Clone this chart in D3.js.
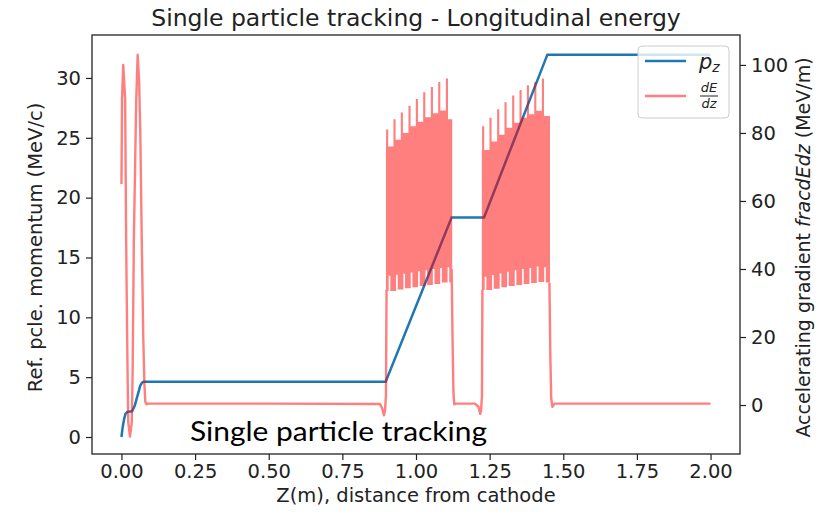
<!DOCTYPE html>
<html>
<head>
<meta charset="utf-8">
<script src="https://cdn.jsdelivr.net/npm/d3@7"></script>
<style>
  body { margin: 0; background: #fff; }
  svg { display: block; font-family: "DejaVu Sans", sans-serif; }
</style>
</head>
<body>
<div id="chart"></div>
<script>
const width = 833;
const height = 515;
const plot = { left: 92, right: 740, top: 35, bottom: 454 };

// tick values
const xTicks = [0, 0.25, 0.5, 0.75, 1.0, 1.25, 1.5, 1.75, 2.0];
const pzTicks = [0, 5, 10, 15, 20, 25, 30];
const gradTicks = [0, 20, 40, 60, 80, 100];

// reference momentum p_z (MeV/c) along z (m)
const pzZ = [0, 0.004, 0.009, 0.014, 0.02, 0.036, 0.045, 0.055, 0.064, 0.07, 0.075, 0.897, 1.121, 1.231, 1.446, 2.0];
const pzVal = [0, 0.8, 1.5, 1.95, 2.1, 2.15, 2.6, 3.5, 4.3, 4.55, 4.62, 4.62, 18.35, 18.35, 31.95, 31.95];

// dE/dz (MeV/m): gun + drift up to first linac section
const gunZ = [0, 0.002, 0.006, 0.0125, 0.016, 0.02, 0.023, 0.029, 0.035, 0.038, 0.042, 0.05, 0.055, 0.06, 0.064, 0.069, 0.074, 0.078, 0.081, 0.085, 0.09, 0.5, 0.878, 0.886, 0.891, 0.895, 0.898, 0.900];
const gunE = [65, 90, 100, 90, 48, 15, -5, -9.3, -5, 10, 48, 89, 103, 95, 80, 48, 20, 6, 1, 0.2, 0.4, 0.4, 0.3, -1.2, -3, -1.5, 3, 34];
// drift between the two sections
const gapZ = [1.121, 1.124, 1.127, 1.130, 1.134, 1.2, 1.212, 1.218, 1.221, 1.224, 1.2255];
const gapE = [40, 20, 4, 0.2, 0.4, 0.4, -0.5, -2.6, -1.5, 3, 34];
// drift after the second section
const tailZ = [1.453, 1.456, 1.459, 1.463, 1.47, 2.0];
const tailE = [36, 15, 2, -0.5, 0.4, 0.4];

// section 1 (dense RF oscillation band)
const s1Range = [0.900, 1.121];
const s1SpikeZ = [0.902, 0.927, 0.952, 0.978, 1.003, 1.028, 1.054, 1.079, 1.105];
const s1SpikeTop = [81, 84, 86, 88, 90, 92, 93.5, 95, 96];
const s1BandTop = [76, 78, 80, 82, 83.3, 84.6, 85.8, 86.6, 84];
const s1NotchZ = [0.910, 0.935, 0.960, 0.985, 1.010, 1.035, 1.060, 1.085, 1.110];
const s1NotchTop = [38, 38.3, 38.6, 39, 39.3, 39.6, 40, 40.3, 40.5];
const s1BandBot = [33.5, 34, 34.3, 34.6, 35, 35.3, 35.6, 36, 36];

// section 2
const s2Range = [1.2255, 1.453];
const s2SpikeZ = [1.228, 1.253, 1.279, 1.304, 1.330, 1.355, 1.380, 1.405, 1.431];
const s2SpikeTop = [82, 84.5, 87, 89, 91, 92.6, 94, 95, 96];
const s2BandTop = [75, 77.5, 79.5, 81.5, 83, 84.5, 85.5, 86.5, 85];
const s2NotchZ = [1.236, 1.261, 1.287, 1.312, 1.338, 1.363, 1.388, 1.413, 1.438];
const s2NotchTop = [37.7, 38.2, 38.7, 39.2, 39.6, 40, 40.3, 40.7, 40.5];
const s2BandBot = [33.8, 34.2, 34.6, 35, 35.3, 35.6, 35.9, 36.2, 36];

const svg = d3.select('#chart')
  .append('svg')
  .attr('width', width)
  .attr('height', height);

svg.append('rect').attr('width', width).attr('height', height).attr('fill', '#fff');

const x = d3.scaleLinear().domain([-0.1, 2.1]).range([plot.left, plot.right]);
const yL = d3.scaleLinear().domain([-1.42, 33.59]).range([plot.bottom, plot.top]);
const yR = d3.scaleLinear().domain([-14.4, 108.8]).range([plot.bottom, plot.top]);

svg.append('clipPath').attr('id', 'clip')
  .append('rect')
  .attr('x', plot.left).attr('y', plot.top)
  .attr('width', plot.right - plot.left)
  .attr('height', plot.bottom - plot.top);

// p_z line
const pzData = pzZ.map((z, i) => [z, pzVal[i]]);
svg.append('path')
  .datum(pzData)
  .attr('clip-path', 'url(#clip)')
  .attr('fill', 'none')
  .attr('stroke', '#1f77b4')
  .attr('stroke-width', 2.5)
  .attr('d', d3.line().x(d => x(d[0])).y(d => yL(d[1])));

// dE/dz, drawn in one group at 50% so overlaps don't double up
const red = svg.append('g')
  .attr('clip-path', 'url(#clip)')
  .attr('opacity', 0.5);

const redLine = d3.line().x(d => x(d[0])).y(d => yR(d[1]));
[[gunZ, gunE], [gapZ, gapE], [tailZ, tailE]].forEach(([zs, es]) => {
  red.append('path')
    .datum(zs.map((z, i) => [z, es[i]]))
    .attr('fill', 'none')
    .attr('stroke', 'red')
    .attr('stroke-width', 2.4)
    .attr('stroke-linejoin', 'round')
    .attr('d', redLine);
});

// outline of a section's band: thin spikes on top, thin white slits at the bottom
function bandOutline(range, spikeZ, spikeTop, bandTop, notchZ, notchTop, bandBot) {
  const hw = 0.0036;   // half width of a spike (~1 px)
  const nw = 0.0028;   // half width of a slit
  const [r0, r1] = range;
  const pts = [[r0 - 0.002, bandBot[0]], [r0 - 0.002, bandTop[0]]];
  spikeZ.forEach((z, i) => {
    const zl = Math.max(r0 - 0.002, z - hw);
    const zr = Math.min(r1, z + hw);
    pts.push([zl, i === 0 ? bandTop[0] : bandTop[i - 1]]);
    pts.push([zl, spikeTop[i]]);
    pts.push([zr, spikeTop[i]]);
    pts.push([zr, bandTop[i]]);
  });
  pts.push([r1 + 0.002, bandTop[bandTop.length - 1]]);
  pts.push([r1 + 0.002, bandBot[bandBot.length - 1]]);
  for (let i = notchZ.length - 1; i >= 0; i--) {
    pts.push([notchZ[i] + nw, bandBot[i]]);
    pts.push([notchZ[i] + nw, notchTop[i]]);
    pts.push([notchZ[i] - nw, notchTop[i]]);
    pts.push([notchZ[i] - nw, i === 0 ? bandBot[0] : bandBot[i - 1]]);
  }
  return pts;
}

[
  bandOutline(s1Range, s1SpikeZ, s1SpikeTop, s1BandTop, s1NotchZ, s1NotchTop, s1BandBot),
  bandOutline(s2Range, s2SpikeZ, s2SpikeTop, s2BandTop, s2NotchZ, s2NotchTop, s2BandBot)
].forEach(pts => {
  red.append('path')
    .datum(pts)
    .attr('fill', 'red')
    .attr('d', d => redLine(d) + 'Z');
});

// axes
const tickFont = 19.5;
const xAxis = svg.append('g')
  .attr('transform', `translate(0,${plot.bottom})`)
  .call(d3.axisBottom(x).tickValues(xTicks).tickFormat(d3.format('.2f')).tickSize(6).tickPadding(4));
const leftAxis = svg.append('g')
  .attr('transform', `translate(${plot.left},0)`)
  .call(d3.axisLeft(yL).tickValues(pzTicks).tickFormat(d3.format('d')).tickSize(6).tickPadding(5));
const rightAxis = svg.append('g')
  .attr('transform', `translate(${plot.right},0)`)
  .call(d3.axisRight(yR).tickValues(gradTicks).tickFormat(d3.format('d')).tickSize(6).tickPadding(5));

[xAxis, leftAxis, rightAxis].forEach(a => {
  a.select('.domain').remove();
  a.selectAll('line').attr('stroke', '#222').attr('stroke-width', 1.2);
  a.selectAll('text')
    .attr('fill', '#222')
    .style('font-family', '"DejaVu Sans", sans-serif')
    .style('font-size', tickFont + 'px');
});

// frame
svg.append('rect')
  .attr('x', plot.left).attr('y', plot.top)
  .attr('width', plot.right - plot.left)
  .attr('height', plot.bottom - plot.top)
  .attr('fill', 'none')
  .attr('stroke', '#222')
  .attr('stroke-width', 1.3);

// title and axis labels
svg.append('text')
  .attr('x', (plot.left + plot.right) / 2)
  .attr('y', 25.5)
  .attr('text-anchor', 'middle')
  .attr('fill', '#222')
  .style('font-size', '23.5px')
  .text('Single particle tracking - Longitudinal energy');

svg.append('text')
  .attr('x', (plot.left + plot.right) / 2)
  .attr('y', 502)
  .attr('text-anchor', 'middle')
  .attr('fill', '#222')
  .style('font-size', '19.5px')
  .text('Z(m), distance from cathode');

svg.append('text')
  .attr('transform', `translate(42,${(plot.top + plot.bottom) / 2 + 3}) rotate(-90)`)
  .attr('text-anchor', 'middle')
  .attr('fill', '#222')
  .style('font-size', '19.5px')
  .text('Ref. pcle. momentum (MeV/c)');

const rLabel = svg.append('text')
  .attr('transform', `translate(810,${(plot.top + plot.bottom) / 2 + 3}) rotate(-90)`)
  .attr('text-anchor', 'middle')
  .attr('fill', '#222')
  .style('font-size', '19px');
rLabel.append('tspan').text('Accelerating gradient ');
rLabel.append('tspan').style('font-style', 'italic').text('fracdEdz');
rLabel.append('tspan').text(' (MeV/m)');

// legend
const legend = svg.append('g').attr('transform', 'translate(638,46)');
legend.append('rect')
  .attr('width', 91).attr('height', 72)
  .attr('rx', 4)
  .attr('fill', '#fff').attr('fill-opacity', 0.8)
  .attr('stroke', '#cccccc').attr('stroke-width', 1);
legend.append('line')
  .attr('x1', 7).attr('x2', 48).attr('y1', 15).attr('y2', 15)
  .attr('stroke', '#1f77b4').attr('stroke-width', 2.5);
legend.append('line')
  .attr('x1', 7).attr('x2', 48).attr('y1', 50).attr('y2', 50)
  .attr('stroke', 'red').attr('stroke-opacity', 0.5).attr('stroke-width', 2.5);
const pLab = legend.append('text')
  .attr('x', 61).attr('y', 23)
  .attr('fill', '#222')
  .style('font-style', 'italic')
  .style('font-size', '21px');
pLab.append('tspan').text('p');
pLab.append('tspan').attr('dy', 3).style('font-size', '14px').text('z');
legend.append('text')
  .attr('x', 71).attr('y', 46)
  .attr('text-anchor', 'middle')
  .attr('fill', '#222')
  .style('font-style', 'italic')
  .style('font-size', '13px')
  .text('dE');
legend.append('line')
  .attr('x1', 62).attr('x2', 80).attr('y1', 50).attr('y2', 50)
  .attr('stroke', '#222').attr('stroke-width', 1);
legend.append('text')
  .attr('x', 71).attr('y', 62)
  .attr('text-anchor', 'middle')
  .attr('fill', '#222')
  .style('font-style', 'italic')
  .style('font-size', '13px')
  .text('dz');

// slide annotation
svg.append('text')
  .attr('x', 190)
  .attr('y', 441)
  .attr('fill', '#000')
  .attr('textLength', 297)
  .attr('lengthAdjust', 'spacingAndGlyphs')
  .style('font-family', 'Lato, "Open Sans", sans-serif')
  .style('font-size', '27px')
  .text('Single particle tracking');
</script>
</body>
</html>
